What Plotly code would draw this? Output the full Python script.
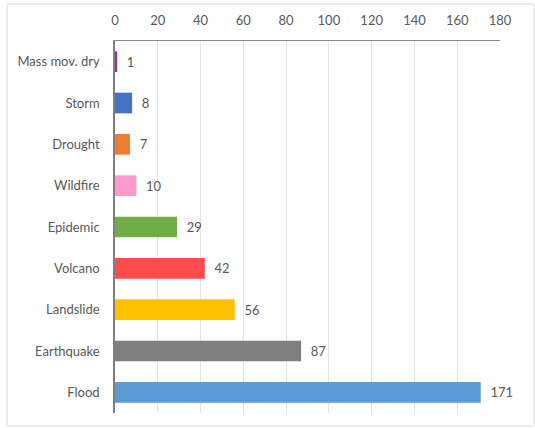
import plotly.graph_objects as go

categories = ["Mass mov. dry", "Storm", "Drought", "Wildfire", "Epidemic",
              "Volcano", "Landslide", "Earthquake", "Flood"]
values = [1, 8, 7, 10, 29, 42, 56, 87, 171]
colors = ["#9B2D9B", "#4472C4", "#ED7D31", "#FF99CC", "#70AD47",
          "#FF4B4B", "#FFC000", "#7F7F7F", "#5B9BD5"]
tick_vals = [0, 20, 40, 60, 80, 100, 120, 140, 160, 180]

W, H = 535, 428
ml, mr, mt, mb = 115, 35, 41, 15

fig = go.Figure(go.Bar(
    x=values, y=categories, orientation="h",
    marker=dict(color=colors, line=dict(width=0)),
    text=["\u00a0\u00a0" + str(v) for v in values], textposition="outside",
    textfont=dict(color="#595959", size=13, family="Lato"),
    cliponaxis=False, width=0.5,
))

pw = W - ml - mr
ph = H - mt - mb
def px_x(p): return (p - ml) / pw
def px_y(p): return 1 - (p - mt) / ph

fig.update_layout(
    width=W, height=H,
    margin=dict(l=ml, r=mr, t=mt, b=mb),
    paper_bgcolor="white", plot_bgcolor="white",
    font=dict(family="Lato", color="#595959", size=13),
    showlegend=False,
    xaxis=dict(side="top", range=[0, 180], tickvals=tick_vals,
               showgrid=True, gridcolor="#E4E4E4", gridwidth=1,
               zeroline=False, showline=True, linecolor="#8C8C8C", linewidth=1,
               ticks="", ticklabelstandoff=10,
               tickfont=dict(size=13, color="#595959")),
    yaxis=dict(categoryorder="array", categoryarray=categories[::-1],
               showline=True, linecolor="#7F7F7F", linewidth=1.5,
               showgrid=False, ticks="", ticklabelstandoff=11,
               tickfont=dict(size=13, color="#595959")),
    shapes=[dict(type="rect", xref="paper", yref="paper",
                 x0=px_x(7), x1=px_x(534), y0=px_y(426), y1=px_y(4),
                 line=dict(color="#D9D9D9", width=1), layer="below")],
)

fig.write_html("out.html")
